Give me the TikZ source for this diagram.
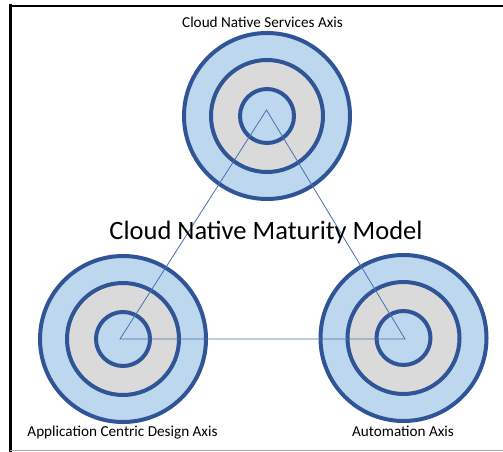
\documentclass[tikz,border=0pt]{standalone}
\usepackage{fontspec}
\setmainfont{Carlito}
\begin{document}
\begin{tikzpicture}[x=1pt,y=-1pt,
  ringline/.style={draw=ringblue,line width=4pt},
  axisline/.style={draw=linkblue,line width=0.8pt},
  label/.style={inner sep=0pt,text=black}]
\definecolor{ringblue}{HTML}{2F5597}
\definecolor{ringfill}{HTML}{BDD7EE}
\definecolor{coregray}{HTML}{DADADA}
\definecolor{linkblue}{HTML}{4A6FAE}
\useasboundingbox (0,0) rectangle (503,452);
% page frame
\draw[black,line width=3pt] (10.5,4.5) -- (10.5,452);
\draw[black,line width=2.5pt] (9,6) -- (503,6);
\draw[gray!70,line width=1.5pt] (10,450.5) -- (503,450.5);
% three target rings
\foreach \n/\cx/\cy in {top/267/116, left/123/339, right/403.5/338}{
  \node[circle,ringline,fill=ringfill,minimum size=166pt,inner sep=0pt] (\n-outer) at (\cx,\cy) {};
  \node[circle,ringline,fill=coregray,minimum size=112pt,inner sep=0pt] (\n-mid) at (\cx,\cy) {};
  \node[circle,ringline,fill=ringfill,minimum size=54pt,inner sep=0pt] (\n-inner) at (\cx,\cy) {};
}
% triangle joining the axes
\coordinate (a) at (266.5,110);
\coordinate (b) at (120,339);
\coordinate (c) at (405,339);
\draw[axisline] (a) -- (b) -- (c) -- cycle;
% texts
\node[label,font=\fontsize{26.5}{30}\selectfont] (title) at (266,232) {Cloud Native Maturity Model};
\node[label,font=\fontsize{15.2}{18}\selectfont] (toplabel) at (262.5,22) {Cloud Native Services Axis};
\node[label,font=\fontsize{15.2}{18}\selectfont] (leftlabel) at (122.5,433) {Application Centric Design Axis};
\node[label,font=\fontsize{15.2}{18}\selectfont] (rightlabel) at (403,431) {Automation Axis};
\end{tikzpicture}
\end{document}
